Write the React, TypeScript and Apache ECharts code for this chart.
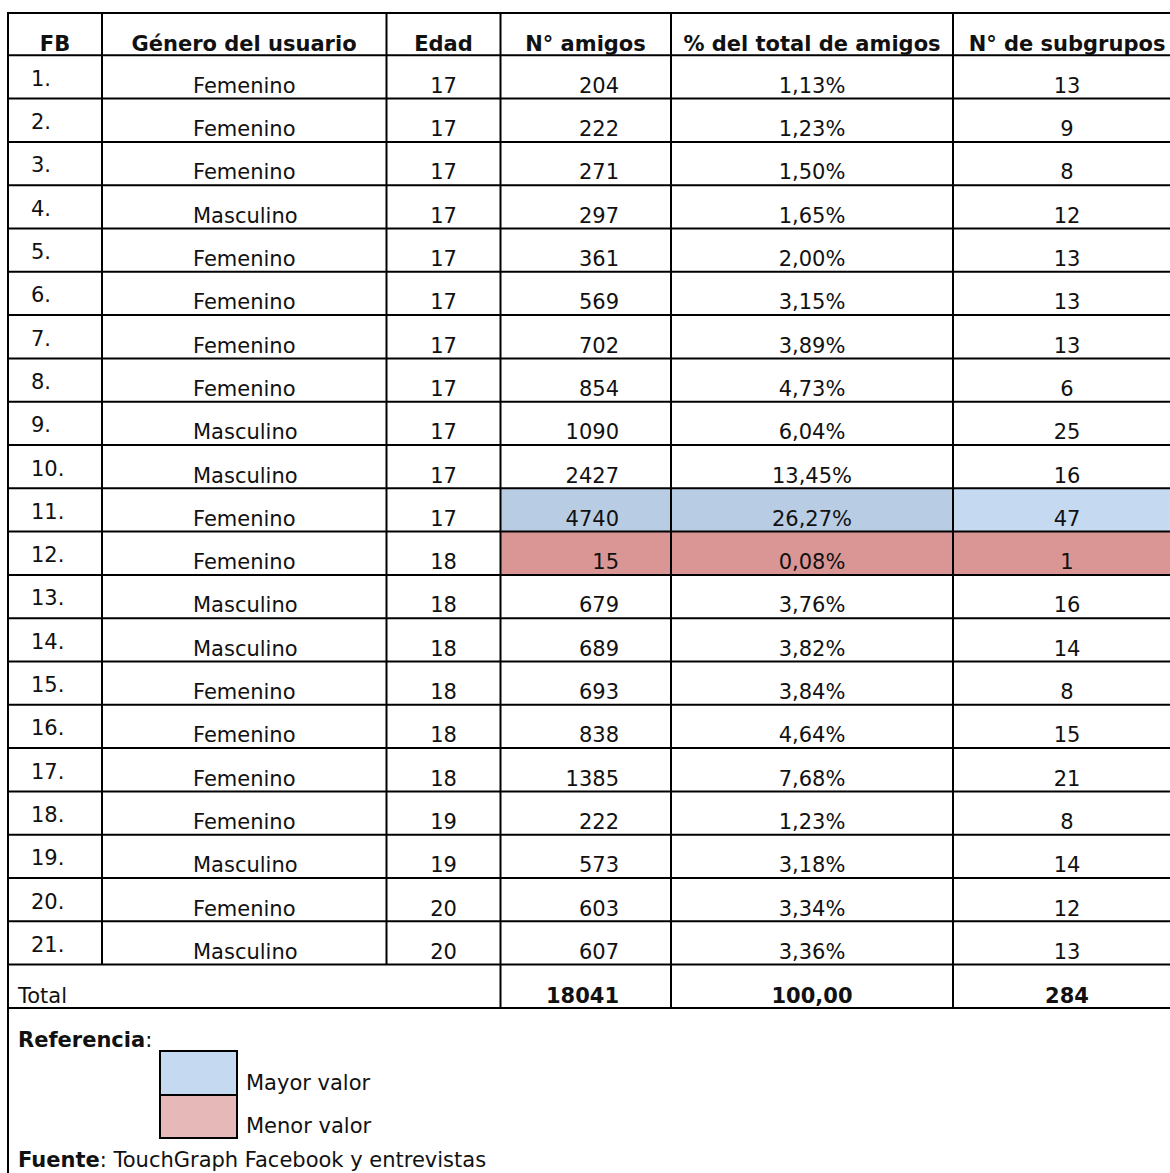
import React, { useEffect, useRef } from "react";
import * as echarts from "echarts";

const headers = ["FB", "Género del usuario", "Edad", "N° amigos", "% del total de amigos", "N° de subgrupos"];
const fbLabels = ["1.", "2.", "3.", "4.", "5.", "6.", "7.", "8.", "9.", "10.", "11.", "12.", "13.", "14.", "15.", "16.", "17.", "18.", "19.", "20.", "21."];
const genero = ["Femenino", "Femenino", "Femenino", "Masculino", "Femenino", "Femenino", "Femenino", "Femenino", "Masculino", "Masculino", "Femenino", "Femenino", "Masculino", "Masculino", "Femenino", "Femenino", "Femenino", "Femenino", "Masculino", "Femenino", "Masculino"];
const edad = [17, 17, 17, 17, 17, 17, 17, 17, 17, 17, 17, 18, 18, 18, 18, 18, 18, 19, 19, 20, 20];
const amigos = [204, 222, 271, 297, 361, 569, 702, 854, 1090, 2427, 4740, 15, 679, 689, 693, 838, 1385, 222, 573, 603, 607];
const porcentaje = ["1,13%", "1,23%", "1,50%", "1,65%", "2,00%", "3,15%", "3,89%", "4,73%", "6,04%", "13,45%", "26,27%", "0,08%", "3,76%", "3,82%", "3,84%", "4,64%", "7,68%", "1,23%", "3,18%", "3,34%", "3,36%"];
const subgrupos = [13, 9, 8, 12, 13, 13, 13, 6, 25, 16, 47, 1, 16, 14, 8, 15, 21, 8, 14, 12, 13];
const totalLabel = "Total";
const totals = ["18041", "100,00", "284"];
const legendLabels = ["Mayor valor", "Menor valor"];
const referenciaLabel = "Referencia";
const fuenteBold = "Fuente";
const fuenteText = ": TouchGraph Facebook y entrevistas";

const FONT = '"DejaVu Sans", Verdana, sans-serif';
const FS = 21;

export default function App() {
  const ref = useRef<HTMLDivElement>(null);
  useEffect(() => {
    document.body.style.margin = "0";
    document.body.style.overflow = "hidden";
    const chart = echarts.init(ref.current!, null, { renderer: "svg" });

    const canvas = document.createElement("canvas");
    const ctx = canvas.getContext("2d")!;
    const measure = (t: string, bold: boolean) => {
      ctx.font = `${bold ? "bold " : ""}${FS}px ${FONT}`;
      return ctx.measureText(t).width;
    };

    const colX = [8, 102, 386.5, 500.5, 671, 953, 1170];
    const top = 13;
    const headerBottom = 55.3;
    const rowH = 43.3;
    const n = fbLabels.length;
    const rowBottom = (i: number) => headerBottom + (i + 1) * rowH;
    const totalTop = headerBottom + n * rowH;
    const totalBottom = totalTop + rowH;
    const mid = (baseline: number) => baseline - 0.346 * FS;

    const els: any[] = [];
    const text = (t: string, x: number, baseline: number, align: string, bold = false) => {
      els.push({
        type: "text",
        x,
        y: mid(baseline),
        style: {
          text: t,
          font: `${bold ? "bold " : ""}${FS}px ${FONT}`,
          fill: "#111",
          align,
          verticalAlign: "middle",
        },
        silent: true,
      });
    };
    const rect = (x: number, y: number, w: number, h: number, fill: string, stroke?: string) => {
      els.push({
        type: "rect",
        shape: { x, y, width: w, height: h },
        style: { fill, stroke: stroke || "none", lineWidth: stroke ? 2 : 0 },
        silent: true,
      });
    };
    const line = (x1: number, y1: number, x2: number, y2: number) => {
      els.push({
        type: "line",
        shape: { x1, y1, x2, y2 },
        style: { stroke: "#000", lineWidth: 2 },
        silent: true,
      });
    };

    // highlighted cells
    const maxIdx = amigos.indexOf(Math.max(...amigos));
    const minIdx = amigos.indexOf(Math.min(...amigos));
    const maxFills = ["#B8CCE4", "#B8CCE4", "#C5D9F1"];
    const minFills = ["#DA9694", "#DA9694", "#DA9694"];
    for (let c = 0; c < 3; c++) {
      const x0 = colX[3 + c];
      const x1 = colX[4 + c];
      rect(x0, rowBottom(maxIdx) - rowH, x1 - x0, rowH, maxFills[c]);
      rect(x0, rowBottom(minIdx) - rowH, x1 - x0, rowH, minFills[c]);
    }

    // horizontal lines
    line(colX[0] - 1, top, 1170, top);
    line(colX[0], headerBottom, 1170, headerBottom);
    for (let i = 0; i < n; i++) line(colX[0], rowBottom(i), 1170, rowBottom(i));
    line(colX[0], totalBottom, 1170, totalBottom);
    // vertical lines
    line(colX[0], top, colX[0], 1173);
    line(colX[1], top, colX[1], totalTop);
    line(colX[2], top, colX[2], totalTop);
    for (let c = 3; c <= 5; c++) line(colX[c], top, colX[c], totalBottom);

    // headers
    const headerCenters = [55, 244, 443.5, 585.5, 812, 1067];
    headers.forEach((h, i) => text(h, headerCenters[i], 51, "center", true));

    // rows
    for (let i = 0; i < n; i++) {
      const b = rowBottom(i);
      text(fbLabels[i], 31, b - 12.5, "left");
      text(genero[i], 193, b - 5.5, "left");
      text(String(edad[i]), 443.5, b - 5.5, "center");
      text(String(amigos[i]), 619, b - 5.5, "right");
      text(porcentaje[i], 812, b - 5.5, "center");
      text(String(subgrupos[i]), 1067, b - 5.5, "center");
    }

    // totals
    text(totalLabel, 18, totalBottom - 4.5, "left");
    text(totals[0], 619, totalBottom - 4.5, "right", true);
    text(totals[1], 812, totalBottom - 4.5, "center", true);
    text(totals[2], 1067, totalBottom - 4.5, "center", true);

    // reference
    const refW = measure(referenciaLabel, true);
    text(referenciaLabel, 18, 1047, "left", true);
    text(":", 18 + refW, 1047, "left");
    rect(160, 1051, 77, 44, "#C5D9F1", "#000");
    rect(160, 1095, 77, 43, "#E6B8B7", "#000");
    text(legendLabels[0], 246, 1090.5, "left");
    text(legendLabels[1], 246, 1133, "left");

    const fW = measure(fuenteBold, true);
    text(fuenteBold, 18, 1167, "left", true);
    text(fuenteText, 18 + fW, 1167, "left");

    chart.setOption({
      animation: false,
      backgroundColor: "#fff",
      graphic: { elements: els },
    });
    return () => chart.dispose();
  }, []);
  return <div ref={ref} style={{ width: 1170, height: 1173 }} />;
}
